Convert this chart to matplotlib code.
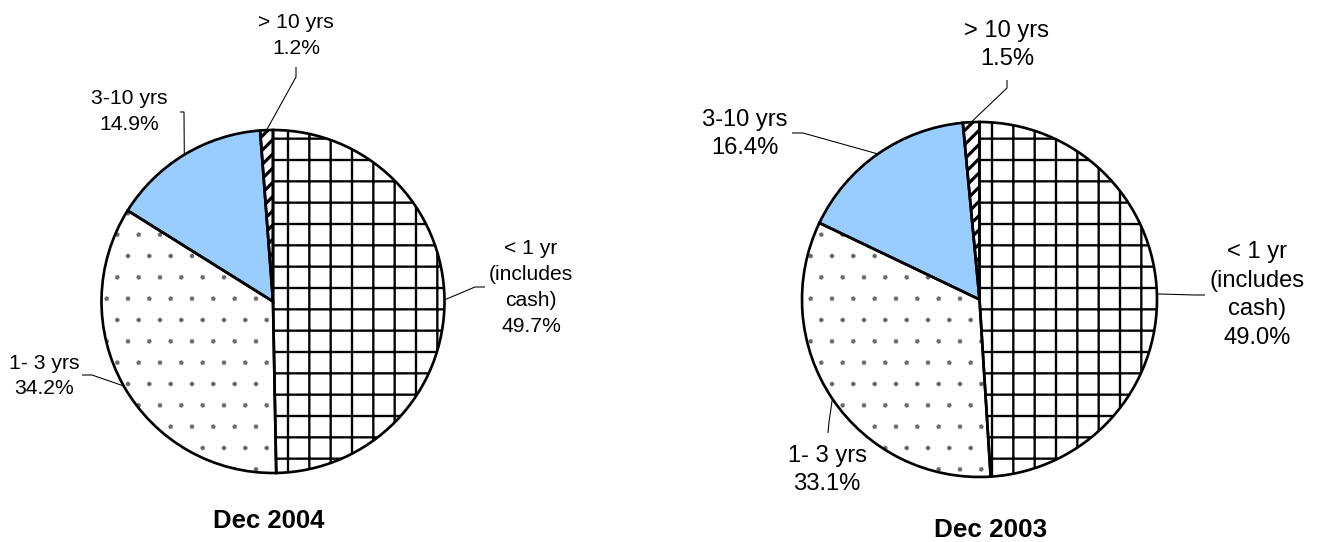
import matplotlib
matplotlib.use('Agg')
import matplotlib.pyplot as plt
import numpy as np

# ---------------- data ----------------
categories = ['< 1 yr\n(includes\ncash)', '1- 3 yrs', '3-10 yrs', '> 10 yrs']
values_dec2004 = [49.7, 34.2, 14.9, 1.2]
values_dec2003 = [49.0, 33.1, 16.4, 1.5]
titles = ['Dec 2004', 'Dec 2003']

# ---------------- style ----------------
W, H = 1322, 542
DPI = 128
plt.rcParams['font.family'] = ['Liberation Sans', 'DejaVu Sans']

fill_colors = ['white', 'white', '#99CCFF', 'white']
hatches = ['+', '.', '', '///']
hatch_colors = ['black', '#6a6a6a', '#99CCFF', 'black']
hatch_lws = [1.3, 0.1, 0.5, 1.8]

fig = plt.figure(figsize=(W / DPI, H / DPI), dpi=DPI)
ax = fig.add_axes([0, 0, 1, 1])


def Y(y):
    return H - y


charts = [
    dict(values=values_dec2004, title=titles[0], center=(273, 301.5), radius=171.5,
         fs=11.9, ls=1.45, tfs=14.5, title_xy=(269, 528),
         text_xy=[(531, 287.5), (44, 376), (129, 111.5), (296, 35.5)],
         leaders=[[(485, 287), (475, 287)], [(82, 375), (92, 375)],
                  [(180, 112), (184, 112)], [(296, 67), (296, 77)]]),
    dict(values=values_dec2003, title=titles[1], center=(979.5, 299.5), radius=177.5,
         fs=13.4, ls=1.38, tfs=14.7, title_xy=(991, 537),
         text_xy=[(1257, 295), (827, 470), (745, 134), (1007, 45)],
         leaders=[[(1205, 295), (1195, 295)], [(828, 433), (829, 422)],
                  [(792, 133), (803, 133)], [(1007, 80), (1007, 88)]]),
]

for ch in charts:
    cx, cy = ch['center']
    r = ch['radius']
    # filled / hatched layer
    wedges, _ = ax.pie(ch['values'], startangle=90, counterclock=False,
                       center=(cx, Y(cy)), radius=r,
                       wedgeprops=dict(linewidth=0))
    for w, fc, hc, hp, hlw in zip(wedges, fill_colors, hatch_colors, hatches, hatch_lws):
        w.set_facecolor(fc)
        w.set_edgecolor(hc)
        w.set_linewidth(0)
        w.set_hatch(hp if hp else None)
        if hasattr(w, 'set_hatch_linewidth'):
            w.set_hatch_linewidth(hlw)
    # outline layer
    outl, _ = ax.pie(ch['values'], startangle=90, counterclock=False,
                     center=(cx, Y(cy)), radius=r,
                     wedgeprops=dict(facecolor='none', edgecolor='black', linewidth=1.5))

    # labels with leader lines
    for w, cat, val, txy, lead in zip(outl, categories, ch['values'], ch['text_xy'], ch['leaders']):
        mid = np.deg2rad((w.theta1 + w.theta2) / 2.0)
        ex = cx + r * np.cos(mid)
        ey = Y(cy) + r * np.sin(mid)
        xs = [p[0] for p in lead] + [ex]
        ys = [Y(p[1]) for p in lead] + [ey]
        ax.plot(xs, ys, color='black', lw=0.6, solid_capstyle='butt', zorder=5)
        ax.text(txy[0], Y(txy[1]), f"{cat}\n{val:.1f}%", ha='center', va='center',
                multialignment='center', fontsize=ch['fs'], linespacing=ch['ls'],
                color='black')

    ax.text(ch['title_xy'][0], Y(ch['title_xy'][1]), ch['title'], ha='center',
            va='baseline', fontsize=ch['tfs'], fontweight='bold', color='black')

ax.set_xlim(0, W)
ax.set_ylim(0, H)
ax.set_aspect('auto')
ax.axis('off')

fig.savefig('out.png', dpi=DPI, facecolor='white')
